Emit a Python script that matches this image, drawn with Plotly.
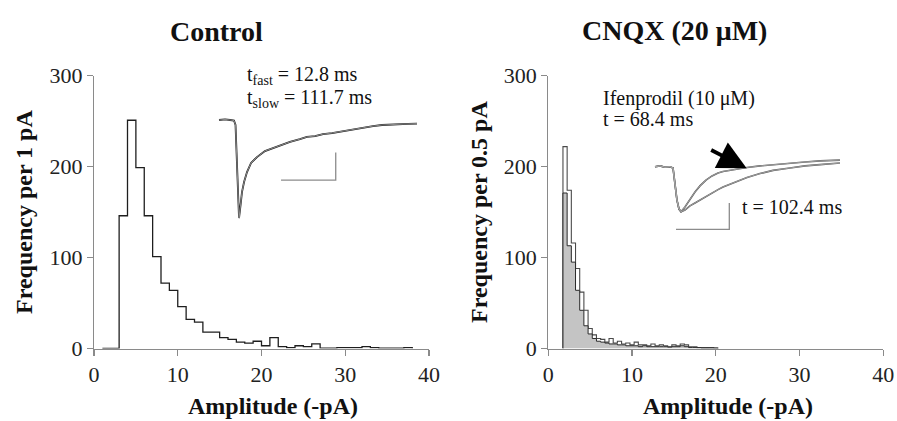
import numpy as np
import plotly.graph_objects as go

# ---------------- data ----------------
# Control histogram: bin width 1 pA, left edges
ctrl_edges = list(range(1, 39))  # 1..38 (last is right edge)
ctrl_counts = [0, 0, 146, 251, 199, 146, 101, 72, 64, 46, 32, 29, 18, 18, 12, 10, 7, 6, 8, 3,
               12, 2, 1, 3, 2, 5, 0.5, 0.5, 1, 1, 1, 2, 1, 0.5, 0.5, 0.5, 1]

# CNQX histograms: bin width 0.5 pA
cnqx_edges = [1.75 + 0.5 * i for i in range(38)]
cnqx_counts = [222, 174, 116, 88, 62, 42, 22, 15, 11, 10, 7, 11, 6, 8, 5, 6, 4, 7, 4, 4,
               3, 5, 3, 4, 3, 2, 4, 3, 5, 4, 2, 2, 1, 1, 1, 1, 0.5]
ifen_counts = [171, 113, 95, 64, 42, 25, 16, 11, 8, 7, 6, 5, 5, 4, 4, 3, 3, 3, 2, 3,
               2, 2, 2, 2, 2, 1.5, 2, 2, 3, 2, 1, 1, 1, 0.5, 0.5, 0.5, 0.5]

# Inset traces (ms, pA)
ctrl_t = [0, 5.5, 10.1, 13.7, 15.1, 16.5, 17.4, 18.3, 19.7, 21.0, 22.9, 25.6, 29.3, 34.7, 42.0,
          49.4, 56.7, 64.9, 74.0, 80.4, 87.8, 95.1, 103.3, 110.6, 117.9, 126.1, 133.5, 140.8,
          149.0, 156.3, 165.4, 172.8, 181.0]
ctrl_i = [0, 0.2, 0, -0.2, -1.8, -14.4, -27.1, -35.4, -30.7, -26.0, -22.4, -18.8, -15.5, -13.4,
          -11.2, -10.1, -9.0, -7.9, -6.9, -6.1, -5.8, -5.1, -4.7, -4.2, -3.6, -3.1, -2.7, -2.2,
          -1.8, -1.6, -1.4, -1.4, -1.3]

cnqx_t = [0, 4.7, 9.4, 14.1, 16.9, 18.8, 20.6, 22.5, 24.4, 28.1, 32.8, 37.5, 42.2, 47.8, 53.5,
          59.1, 63.8, 70.4, 77.9, 86.3, 98.5, 110.7, 126.6, 140.7, 154.8, 173.5]
cnqx_fast_i = [0, 0.3, -0.2, 0, -0.5, -7.0, -12.7, -16.1, -17.1, -15.3, -12.3, -9.6, -7.3, -5.1,
               -3.5, -2.4, -1.8, -1.3, -0.7, -0.3, 0.3, 0.8, 1.4, 1.8, 2.2, 2.5]
cnqx_slow_i = [0, 0.3, -0.2, 0, -0.5, -7.0, -12.7, -16.1, -17.1, -16.5, -14.9, -13.8, -12.7, -11.1,
               -9.8, -8.7, -7.7, -6.6, -5.4, -4.1, -2.6, -1.4, -0.5, 0.3, 0.8, 1.4]

# scale bars (ms, pA)
ctrl_bar_t = [56.7, 106.7, 106.7]
ctrl_bar_i = [-21.7, -21.7, -11.7]
cnqx_bar_t = [19.7, 69.7, 69.7]
cnqx_bar_i = [-23.8, -23.8, -13.8]

x_ticks = [0, 10, 20, 30, 40]
y_ticks = [0, 100, 200, 300]

# ---------------- helpers ----------------
W, H = 897, 421
def PX(x):
    return x / W
def PY(y):
    return 1 - y / H

def step_xy(edges, counts):
    x = [edges[0]] + list(edges)
    y = [0] + list(counts) + [0]
    return x, y

SERIF = "Liberation Serif"
AX_COL = "#8a8a8a"

fig = go.Figure()

sx, sy = step_xy(ctrl_edges, ctrl_counts)
fig.add_trace(go.Scatter(x=sx, y=sy, mode="lines", line=dict(shape="hv", color="#1e1e1e", width=1.3),
                         xaxis="x", yaxis="y", hoverinfo="skip", showlegend=False))

sx, sy = step_xy(cnqx_edges, cnqx_counts)
fig.add_trace(go.Scatter(x=sx, y=sy, mode="lines", line=dict(shape="hv", color="#4a4a4a", width=1.1),
                         xaxis="x2", yaxis="y2", hoverinfo="skip", showlegend=False))
sx, sy = step_xy(cnqx_edges, ifen_counts)
fig.add_trace(go.Scatter(x=sx, y=sy, mode="lines", line=dict(shape="hv", color="#2a2a2a", width=1.0),
                         fill="tozeroy", fillcolor="#c4c4c4",
                         xaxis="x2", yaxis="y2", hoverinfo="skip", showlegend=False))

fig.add_trace(go.Scatter(x=ctrl_t, y=ctrl_i, mode="lines", line=dict(color="#1a1a1a", width=1.8),
                         xaxis="x3", yaxis="y3", hoverinfo="skip", showlegend=False))
fig.add_trace(go.Scatter(x=ctrl_t, y=ctrl_i, mode="lines", line=dict(color="#9a9a9a", width=0.9),
                         xaxis="x3", yaxis="y3", hoverinfo="skip", showlegend=False))
fig.add_trace(go.Scatter(x=ctrl_bar_t, y=ctrl_bar_i, mode="lines", line=dict(color="#8c8c8c", width=1.3),
                         xaxis="x3", yaxis="y3", hoverinfo="skip", showlegend=False))

fig.add_trace(go.Scatter(x=cnqx_t, y=cnqx_slow_i, mode="lines", line=dict(color="#555555", width=1.6),
                         xaxis="x4", yaxis="y4", hoverinfo="skip", showlegend=False))
fig.add_trace(go.Scatter(x=cnqx_t, y=cnqx_fast_i, mode="lines", line=dict(color="#555555", width=1.6),
                         xaxis="x4", yaxis="y4", hoverinfo="skip", showlegend=False))
fig.add_trace(go.Scatter(x=cnqx_t, y=cnqx_slow_i, mode="lines", line=dict(color="#b0b0b0", width=0.8),
                         xaxis="x4", yaxis="y4", hoverinfo="skip", showlegend=False))
fig.add_trace(go.Scatter(x=cnqx_t, y=cnqx_fast_i, mode="lines", line=dict(color="#b0b0b0", width=0.8),
                         xaxis="x4", yaxis="y4", hoverinfo="skip", showlegend=False))
fig.add_trace(go.Scatter(x=cnqx_bar_t, y=cnqx_bar_i, mode="lines", line=dict(color="#8c8c8c", width=1.3),
                         xaxis="x4", yaxis="y4", hoverinfo="skip", showlegend=False))

tickfont = dict(family=SERIF, size=22, color="#222222")
main_x = dict(range=[0, 40], tickvals=x_ticks, showline=True, linecolor=AX_COL, linewidth=1.2,
              ticks="outside", ticklen=6, tickcolor=AX_COL, tickwidth=1.2, showgrid=False,
              zeroline=False, tickfont=tickfont, fixedrange=True, automargin=False,
              ticklabeloverflow="allow")
main_y = dict(range=[0, 300], tickvals=y_ticks, showline=True, linecolor=AX_COL, linewidth=1.2,
              ticks="outside", ticklen=6, tickcolor=AX_COL, tickwidth=1.2, showgrid=False,
              zeroline=False, tickfont=tickfont, fixedrange=True, automargin=False,
              ticklabeloverflow="allow")
hidden = dict(visible=False, showgrid=False, zeroline=False, fixedrange=True)

ydom = [PY(348.5), PY(75.7)]
fig.update_layout(
    width=W, height=H,
    margin=dict(l=0, r=0, t=0, b=0, pad=0, autoexpand=False),
    paper_bgcolor="white", plot_bgcolor="rgba(0,0,0,0)",
    xaxis=dict(main_x, domain=[PX(94), PX(429)], anchor="y"),
    yaxis=dict(main_y, domain=ydom, anchor="x"),
    xaxis2=dict(main_x, domain=[PX(548.3), PX(883.3)], anchor="y2"),
    yaxis2=dict(main_y, domain=ydom, anchor="x2"),
    xaxis3=dict(hidden, domain=[PX(215), PX(425)], range=[-3.66, 188.3], anchor="y3"),
    yaxis3=dict(hidden, domain=[PY(225), PY(110)], range=[-37.9, 3.61], anchor="x3"),
    xaxis4=dict(hidden, domain=[PX(650), PX(850)], range=[-4.69, 182.9], anchor="y4"),
    yaxis4=dict(hidden, domain=[PY(235), PY(150)], range=[-25.97, 6.35], anchor="x4"),
    showlegend=False,
)

ann = []
def txt(text, x, y, size, bold=False, angle=0, xanchor="center"):
    t = f"<b>{text}</b>" if bold else text
    ann.append(dict(text=t, x=PX(x), y=PY(y), xref="paper", yref="paper", showarrow=False,
                    xanchor=xanchor, yanchor="middle", textangle=angle,
                    font=dict(family=SERIF, size=size, color="#111111")))

txt("Control", 216, 31, 28, bold=True)
txt("CNQX (20 μM)", 674, 30, 28, bold=True)
txt("Frequency per 1 pA", 24, 212, 24, bold=True, angle=-90)
txt("Frequency per 0.5 pA", 479, 212, 24, bold=True, angle=-90)
txt("Amplitude (-pA)", 272.7, 406, 24, bold=True)
txt("Amplitude (-pA)", 728.3, 406, 24, bold=True)
txt("t<sub>fast</sub> = 12.8 ms", 245, 76, 20, xanchor="left")
txt("t<sub>slow</sub> = 111.7 ms", 245, 98, 20, xanchor="left")
txt("Ifenprodil (10 μM)", 601, 98, 20, xanchor="left")
txt("t = 68.4 ms", 601, 119, 20, xanchor="left")
txt("t = 102.4 ms", 740, 207, 20, xanchor="left")

ann.append(dict(x=86.0, y=-0.6, xref="x4", yref="y4", ax=-37, ay=-19, axref="pixel", ayref="pixel",
                showarrow=True, arrowhead=2, arrowsize=1.5, arrowwidth=3.8, arrowcolor="#000000",
                standoff=0, text=""))
fig.update_layout(annotations=ann)

fig.write_html("out.html", config={"displayModeBar": False, "staticPlot": True},
               post_script="document.body.style.margin='0px';document.body.style.overflow='hidden';")
